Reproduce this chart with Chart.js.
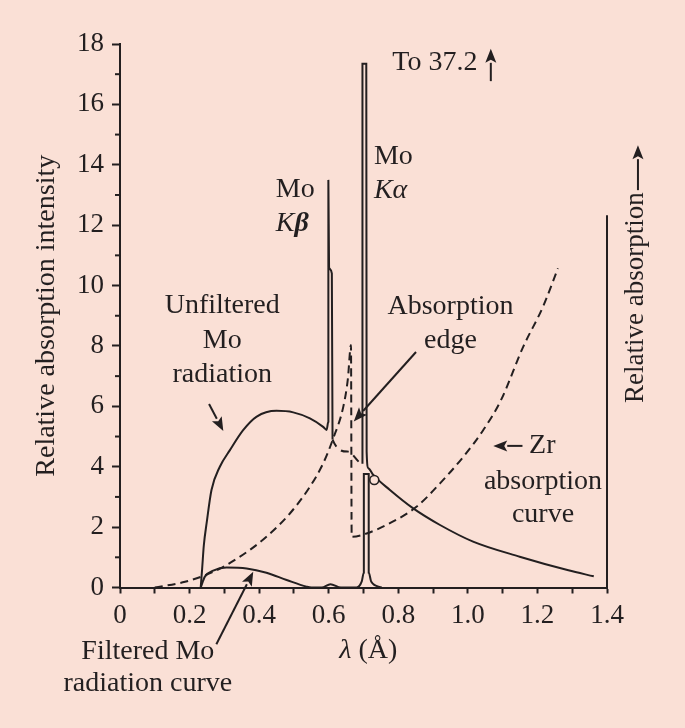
<!DOCTYPE html>
<html>
<head>
<meta charset="utf-8">
<title>Mo radiation and Zr absorption</title>
<script src="https://cdn.jsdelivr.net/npm/chart.js@4.4.0/dist/chart.umd.min.js"></script>
<style>
  html, body { margin: 0; padding: 0; background: #fae0d6; }
  #wrap { width: 685px; height: 728px; position: relative; }
</style>
</head>
<body>
<div id="wrap"><canvas id="absChart"></canvas></div>
<script>
// Wavelength (Å) / intensity
const unfilteredX = [0.232, 0.236, 0.241, 0.249, 0.263, 0.287, 0.316, 0.354, 0.393, 0.45, 0.498, 0.546, 0.584, 0.594,
  0.599, 0.599, 0.601, 0.609, 0.611, 0.655, 0.697, 0.697, 0.708, 0.709, 0.714, 0.728, 0.776, 0.843, 0.92, 1.015,
  1.149, 1.289, 1.362];
const unfilteredY = [0, 0.6, 1.4, 2.13, 3.23, 4.0, 4.55, 5.21, 5.66, 5.85, 5.8, 5.6, 5.32, 5.22,
  5.5, 13.5, 10.6, 10.4, 4.9, 4.5, 4.1, 17.35, 17.35, 4.5, 3.95, 3.73, 3.23, 2.62, 2.07, 1.52,
  1.02, 0.57, 0.37];

const filteredX = [0.232, 0.244, 0.268, 0.306, 0.364, 0.421, 0.479, 0.536, 0.55, 0.58, 0.605, 0.635, 0.68, 0.695,
  0.701, 0.701, 0.715, 0.715, 0.722, 0.752];
const filteredY = [0, 0.36, 0.56, 0.66, 0.63, 0.49, 0.25, 0.03, 0, 0, 0.11, 0, 0, 0.2,
  0.5, 3.76, 3.76, 0.5, 0.2, 0];

const zrX = [0.10, 0.187, 0.268, 0.345, 0.421, 0.489, 0.546, 0.584, 0.613, 0.642, 0.655, 0.664, 0.666,
  0.709, 0.776, 0.853, 0.92, 0.987, 1.044, 1.095, 1.159, 1.216, 1.259];
const zrY = [0, 0.19, 0.52, 1.02, 1.68, 2.46, 3.34, 4.11, 4.94, 5.99, 6.9, 8.03, 1.68,
  1.79, 2.13, 2.68, 3.45, 4.33, 5.21, 6.2, 7.97, 9.3, 10.57];

const markX = [0.731];
const markY = [3.56];

// right-hand "relative absorption" axis line
const rightAxisX = [1.4, 1.4];
const rightAxisY = [0, 12.33];

const xTickLabels = ["0", "0.2", "0.4", "0.6", "0.8", "1.0", "1.2", "1.4"];
const yTickLabels = ["0", "2", "4", "6", "8", "10", "12", "14", "16", "18"];

const ink = "#231f20";
const paper = "#fae0d6";
const serif = "'Liberation Serif', 'Times New Roman', serif";

const toPoints = (xs, ys) => xs.map((x, i) => ({ x: x, y: ys[i] }));

// labels and arrows, placed in data units
const notes = [
  { x: 0.905, y: 17.38, parts: [["To 37.2", ""]] },
  { x: 0.73, y: 14.26, align: "left", parts: [["Mo", ""]] },
  { x: 0.73, y: 13.16, align: "left", parts: [["K", "italic "], ["\u03b1", "italic "]] },
  { x: 0.448, y: 13.19, align: "left", parts: [["Mo", ""]] },
  { x: 0.448, y: 12.05, align: "left", parts: [["K", "italic "], ["\u03b2", "italic bold "]] },
  { x: 0.294, y: 9.32, parts: [["Unfiltered", ""]] },
  { x: 0.294, y: 8.17, parts: [["Mo", ""]] },
  { x: 0.294, y: 7.05, parts: [["radiation", ""]] },
  { x: 0.95, y: 9.29, parts: [["Absorption", ""]] },
  { x: 0.95, y: 8.17, parts: [["edge", ""]] },
  { x: 1.176, y: 4.69, align: "left", parts: [["Zr", ""]] },
  { x: 1.216, y: 3.49, parts: [["absorption", ""]] },
  { x: 1.216, y: 2.41, parts: [["curve", ""]] },
  { x: 0.08, y: -2.12, parts: [["Filtered Mo", ""]] },
  { x: 0.08, y: -3.19, parts: [["radiation curve", ""]] },
  { x: 0.714, y: -2.08, parts: [["\u03bb", "italic "], [" (\u00c5)", ""]] }
];

const arrows = [
  { from: [0.256, 6.08], to: [0.297, 5.18] },
  { from: [0.851, 7.8], to: [0.672, 5.5] },
  { from: [1.157, 4.69], to: [1.073, 4.69] },
  { from: [0.277, -1.88], to: [0.383, 0.52] },
  { from: [1.066, 16.77], to: [1.066, 17.84] },
  { from: [1.489, 13.16], to: [1.489, 14.65] }
];

function drawArrow(ctx, x1, y1, x2, y2) {
  const ang = Math.atan2(y2 - y1, x2 - x1);
  const len = 14, half = 5.5;
  const bx = x2 - len * Math.cos(ang), by = y2 - len * Math.sin(ang);
  ctx.beginPath();
  ctx.moveTo(x1, y1);
  ctx.lineTo(bx, by);
  ctx.stroke();
  ctx.beginPath();
  ctx.moveTo(x2, y2);
  ctx.lineTo(bx + half * Math.sin(ang), by - half * Math.cos(ang));
  ctx.lineTo(bx + 3 * Math.cos(ang), by + 3 * Math.sin(ang));
  ctx.lineTo(bx - half * Math.sin(ang), by + half * Math.cos(ang));
  ctx.closePath();
  ctx.fill();
}

const figureNotes = {
  id: "figureNotes",
  afterDraw(chart) {
    const { ctx, scales: { x, y } } = chart;
    ctx.save();
    ctx.fillStyle = ink;
    ctx.strokeStyle = ink;
    ctx.lineWidth = 2;

    // minor ticks on the left axis
    for (let v = 1; v < 18; v += 2) {
      const py = y.getPixelForValue(v);
      ctx.beginPath();
      ctx.moveTo(x.left - 5, py);
      ctx.lineTo(x.left, py);
      ctx.stroke();
    }

    ctx.textBaseline = "middle";
    notes.forEach(n => {
      let px = x.getPixelForValue(n.x);
      const py = y.getPixelForValue(n.y);
      const widths = n.parts.map(p => {
        ctx.font = p[1] + "28px " + serif;
        return ctx.measureText(p[0]).width;
      });
      const total = widths.reduce((a, b) => a + b, 0);
      if (n.align !== "left") px -= total / 2;
      ctx.textAlign = "left";
      n.parts.forEach((p, i) => {
        ctx.font = p[1] + "28px " + serif;
        ctx.fillText(p[0], px, py);
        px += widths[i];
      });
    });

    arrows.forEach(a => {
      drawArrow(ctx,
        x.getPixelForValue(a.from[0]), y.getPixelForValue(a.from[1]),
        x.getPixelForValue(a.to[0]), y.getPixelForValue(a.to[1]));
    });

    // right-hand axis title, reads upward
    ctx.translate(x.getPixelForValue(1.503), y.getPixelForValue(6.11));
    ctx.rotate(-Math.PI / 2);
    ctx.font = "27px " + serif;
    ctx.textAlign = "left";
    ctx.textBaseline = "alphabetic";
    ctx.fillText("Relative absorption", 0, 0);
    ctx.restore();
  }
};

const hiddenPart = c => c.p0.parsed.x >= 0.61 && c.p1.parsed.x <= 0.697 &&
  c.p0.parsed.y < 6 && c.p1.parsed.y < 6;

new Chart(document.getElementById("absChart"), {
  type: "line",
  data: {
    datasets: [
      {
        label: "mark",
        data: toPoints(markX, markY),
        showLine: false,
        pointRadius: 4.5,
        pointBorderWidth: 1.6,
        pointBorderColor: ink,
        pointBackgroundColor: paper
      },
      {
        label: "Unfiltered Mo radiation",
        data: toPoints(unfilteredX, unfilteredY),
        borderColor: ink,
        borderWidth: 2,
        cubicInterpolationMode: "monotone",
        segment: { borderDash: c => (hiddenPart(c) ? [8, 6] : undefined) }
      },
      {
        label: "Filtered Mo radiation",
        data: toPoints(filteredX, filteredY),
        borderColor: ink,
        borderWidth: 2,
        cubicInterpolationMode: "monotone"
      },
      {
        label: "Zr absorption curve",
        data: toPoints(zrX, zrY),
        borderColor: ink,
        borderWidth: 2,
        borderDash: [8, 5],
        cubicInterpolationMode: "monotone"
      },
      {
        label: "Relative absorption",
        data: toPoints(rightAxisX, rightAxisY),
        borderColor: ink,
        borderWidth: 2
      }
    ]
  },
  options: {
    responsive: true,
    maintainAspectRatio: false,
    animation: false,
    events: [],
    clip: false,
    layout: { padding: { top: 44, right: 78, bottom: 0, left: 0 } },
    elements: { point: { radius: 0 } },
    plugins: {
      legend: { display: false },
      tooltip: { enabled: false }
    },
    scales: {
      x: {
        type: "linear",
        min: 0,
        max: 1.4,
        afterFit: s => { s.height = 140.5; },
        border: { color: ink, width: 2 },
        grid: { drawOnChartArea: false, tickLength: 6, tickWidth: 2, tickColor: ink },
        ticks: {
          stepSize: 0.1,
          autoSkip: false,
          maxRotation: 0,
          padding: 6,
          color: ink,
          font: { family: serif, size: 27 },
          callback: v => {
            const k = Math.round(v * 10);
            return k % 2 === 0 ? xTickLabels[k / 2] : "";
          }
        }
      },
      y: {
        min: 0,
        max: 18,
        afterFit: s => { s.width = 120; },
        border: { color: ink, width: 2 },
        grid: { drawOnChartArea: false, tickLength: 8, tickWidth: 2, tickColor: ink },
        ticks: {
          stepSize: 2,
          padding: 8,
          color: ink,
          font: { family: serif, size: 27 },
          callback: v => yTickLabels[Math.round(v / 2)]
        },
        title: {
          display: true,
          text: "Relative absorption intensity",
          color: ink,
          font: { family: serif, size: 28 },
          padding: { top: 30, bottom: 0 }
        }
      }
    }
  },
  plugins: [figureNotes]
});
</script>
</body>
</html>
